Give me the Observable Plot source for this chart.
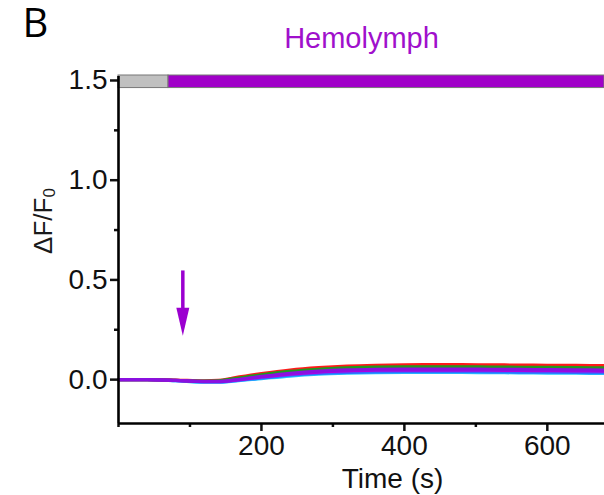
<!DOCTYPE html>
<html>
<head>
<meta charset="utf-8">
<script src="https://cdn.jsdelivr.net/npm/d3@7"></script>
<script src="https://cdn.jsdelivr.net/npm/@observablehq/plot@0.6"></script>
<style>
  html, body { margin: 0; padding: 0; background: #fff; }
  #wrap { position: relative; width: 604px; height: 495px; overflow: hidden; font-family: "Liberation Sans", Arial, sans-serif; }
  #ylab { position: absolute; left: 44px; top: 221px; transform: translate(-50%, -50%) rotate(-90deg); font-size: 26px; color: #1a1a1a; white-space: nowrap; }
  #ylab sub { font-size: 17px; vertical-align: -3px; }
</style>
</head>
<body>
<div id="wrap">
  <div id="ylab">ΔF/F<sub>0</sub></div>
</div>
<script>
// Time points (s)
const times = [0, 40, 80, 120, 140, 160, 200, 240, 280, 320, 360, 400, 440, 480, 520, 560, 600, 640, 680];
// ΔF/F0 traces
const cyanTrace   = [0, 0, -0.005, -0.013, -0.013, -0.008, 0.005, 0.018, 0.027, 0.032, 0.035, 0.036, 0.036, 0.036, 0.035, 0.034, 0.033, 0.032, 0.031];
const blueTrace   = [0, 0, -0.005, -0.012, -0.012, -0.006, 0.008, 0.022, 0.031, 0.036, 0.039, 0.040, 0.040, 0.040, 0.039, 0.038, 0.037, 0.036, 0.035];
const redTrace    = [0, 0, -0.002, -0.006, -0.004, 0.008, 0.030, 0.048, 0.060, 0.068, 0.072, 0.074, 0.075, 0.075, 0.074, 0.073, 0.072, 0.071, 0.070];
const greenTrace  = [0, 0, -0.003, -0.007, -0.006, 0.004, 0.024, 0.041, 0.052, 0.059, 0.063, 0.064, 0.064, 0.064, 0.063, 0.062, 0.061, 0.060, 0.059];
const violetTrace = [0, 0, -0.004, -0.010, -0.010, -0.004, 0.013, 0.028, 0.038, 0.044, 0.047, 0.048, 0.048, 0.048, 0.047, 0.046, 0.045, 0.044, 0.043];
const purpleTrace = [0, 0, -0.004, -0.009, -0.009, -0.002, 0.016, 0.032, 0.043, 0.049, 0.052, 0.053, 0.053, 0.053, 0.052, 0.051, 0.050, 0.049, 0.048];

const seriesNames  = ["cyan", "blue", "red", "green", "violet", "purple"];
const seriesValues = [cyanTrace, blueTrace, redTrace, greenTrace, violetTrace, purpleTrace];
const seriesColors = ["#22c8ff", "#2f6bff", "#ff1a1a", "#1f9a1f", "#b000e0", "#8a10e0"];

// Perfusion bar: baseline saline then hemolymph
const barStarts = [0, 70];
const barEnds   = [70, 680];
const barColors = ["#c0c0c0", "#a000c8"];

// Stimulus arrow time
const arrowTime = [90];

// Axis ticks
const xMajor = [200, 400, 600];
const xMinor = [0, 100, 300, 500];
const yMajor = [0, 0.5, 1.0, 1.5];
const yMinor = [0.25, 0.75, 1.25];
const xDomain = [0, 680];
const yDomain = [-0.22, 1.52];

const traces = [];
seriesNames.forEach((name, i) => {
  times.forEach((t, j) => traces.push({series: name, order: i, t, v: seriesValues[i][j]}));
});
const bars = barStarts.map((s, i) => ({x1: s, x2: barEnds[i], c: barColors[i]}));

const downArrow = {
  draw(ctx) {
    ctx.moveTo(-6.5, -14);
    ctx.lineTo(6.5, -14);
    ctx.lineTo(0, 14);
    ctx.closePath();
  }
};

const purple = "#9b00d0";
const chart = Plot.plot({
  width: 604,
  height: 495,
  marginLeft: 118,
  marginRight: 0,
  marginTop: 76,
  marginBottom: 72,
  style: {fontFamily: "'Liberation Sans', Arial, sans-serif", color: "#111", background: "#fff", overflow: "visible"},
  x: {domain: xDomain},
  y: {domain: yDomain},
  marks: [
    // traces
    ...seriesNames.map((name, i) => Plot.line(traces.filter(d => d.series === name), {
      x: "t", y: "v", stroke: seriesColors[i], strokeWidth: 3.2, curve: "monotone-x"
    })),
    // perfusion bar
    Plot.rect(bars, {x1: "x1", x2: "x2", y1: 1.462, y2: 1.525, fill: "c", stroke: "#777", strokeWidth: 1}),
    // arrow
    Plot.ruleX(arrowTime, {x: d => d, y1: 0.545, y2: 0.33, stroke: purple, strokeWidth: 3.5}),
    Plot.dot(arrowTime, {x: d => d, y: 0.29, symbol: downArrow, fill: purple, stroke: null}),
    // panel letter
    Plot.text(["B"], {frameAnchor: "top-left", textAnchor: "start", lineAnchor: "top", dx: -96, dy: -68,
      fontSize: 40, fontFamily: "'Open Sans', sans-serif", fill: "#000", text: d => d}),
    // title
    Plot.text(["Hemolymph"], {frameAnchor: "top", lineAnchor: "top", dy: -49, fill: "#a010cc", fontSize: 29,
      text: d => d, style: "letter-spacing: 1.3px"}),
    // axes
    Plot.axisY(yMajor, {tickSize: 8, tickPadding: 3, fontSize: 28, strokeWidth: 2.5, tickFormat: d3.format(".1f"), label: null, fill: "#111"}),
    Plot.axisY(yMinor, {tickSize: 4, strokeWidth: 2.5, tickFormat: () => "", label: null}),
    Plot.axisX(xMajor, {tickSize: 8, tickPadding: 4, fontSize: 28, strokeWidth: 2.5, label: null, fill: "#111"}),
    Plot.axisX(xMinor, {tickSize: 4, strokeWidth: 2.5, tickFormat: () => "", label: null}),
    Plot.ruleX([xDomain[0]], {strokeWidth: 2.6, stroke: "#000"}),
    Plot.ruleY([yDomain[0]], {strokeWidth: 2.6, stroke: "#000"}),
    Plot.text(["Time (s)"], {frameAnchor: "bottom", lineAnchor: "top", dx: 31, dy: 45, fontSize: 28, fill: "#111", text: d => d})
  ]
});
document.getElementById("wrap").prepend(chart);
chart.style.position = "absolute";
chart.style.left = "0";
chart.style.top = "0";
</script>
</body>
</html>
